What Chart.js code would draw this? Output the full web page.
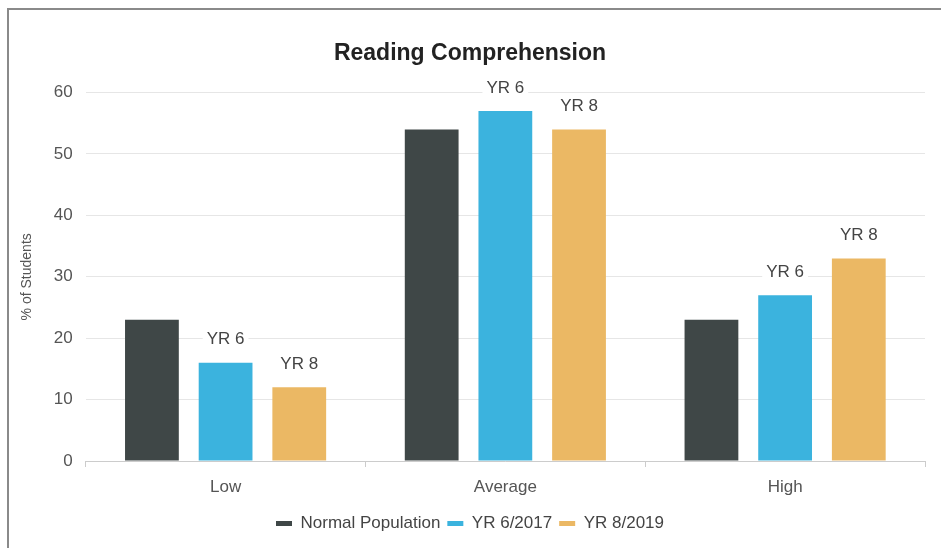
<!DOCTYPE html>
<html>
<head>
<meta charset="utf-8">
<script src="https://cdn.jsdelivr.net/npm/chart.js@4/dist/chart.umd.min.js"></script>
<style>
    html, body { margin: 0; padding: 0; background: #fff; }
    #wrap { position: relative; width: 941px; height: 548px; }
    #frame { position: absolute; left: 7px; top: 8px; right: 0; bottom: 0; border-top: 2px solid #8a8a8a; border-left: 2px solid #8a8a8a; }
    #chart1 { position: absolute; left: 0; top: 0; }
</style>
</head>
<body>
<div id="wrap">
    <div id="frame"></div>
    <canvas id="chart1" width="941" height="548"></canvas>
</div>
<script>
Chart.defaults.font.family = '"Liberation Sans", Arial, sans-serif';
Chart.defaults.color = '#555';

const categories = ['Low', 'Average', 'High'];
const seriesNames = ['Normal Population', 'YR 6/2017', 'YR 8/2019'];
const normalPop = [23, 54, 23];
const yr6 = [16, 57, 27];
const yr8 = [12, 54, 33];
const barTags = ['', 'YR 6', 'YR 8'];
const yTicks = [0, 10, 20, 30, 40, 50, 60];

// labels above the bars, with a white box behind them
const barTagPlugin = {
    id: 'barTags',
    afterDatasetsDraw(chart) {
        const ctx = chart.ctx;
        ctx.save();
        ctx.font = '17px "Liberation Sans", Arial, sans-serif';
        ctx.textAlign = 'center';
        ctx.textBaseline = 'middle';
        chart.data.datasets.forEach((ds, i) => {
            const tag = barTags[i];
            if (!tag) return;
            chart.getDatasetMeta(i).data.forEach(bar => {
                const y = bar.y - 23;
                const w = ctx.measureText(tag).width + 8;
                ctx.fillStyle = '#fff';
                ctx.fillRect(bar.x - w / 2, y - 10, w, 20);
                ctx.fillStyle = '#444';
                ctx.fillText(tag, bar.x, y);
            });
        });
        ctx.restore();
    }
};

const chart1 = new Chart(document.querySelector('#chart1'), {
    type: 'bar',
    data: {
        labels: categories,
        datasets: [
            { label: seriesNames[0], data: normalPop, backgroundColor: '#3f4747' },
            { label: seriesNames[1], data: yr6, backgroundColor: '#3bb3de' },
            { label: seriesNames[2], data: yr8, backgroundColor: '#ebb864' },
        ]
    },
    options: {
        responsive: false,
        animation: false,
        categoryPercentage: 0.79,
        barPercentage: 0.73,
        layout: {
            padding: { top: 30, left: 15, right: 16, bottom: 6 }
        },
        scales: {
            x: {
                grid: {
                    offset: true,
                    drawOnChartArea: false,
                    tickLength: 6,
                    color: '#cccccc'
                },
                border: { color: '#cccccc' },
                ticks: {
                    color: '#555',
                    padding: 12,
                    font: { size: 17, lineHeight: 1 }
                }
            },
            y: {
                min: 0,
                max: 60,
                afterBuildTicks: (axis) => { axis.ticks = yTicks.map(v => ({ value: v })); },
                grid: {
                    color: '#e6e6e6',
                    drawTicks: false
                },
                border: { display: false },
                ticks: {
                    color: '#555',
                    padding: 13,
                    font: { size: 17 }
                },
                title: {
                    display: true,
                    text: '% of Students',
                    color: '#555',
                    font: { size: 14 },
                    padding: { bottom: 5 }
                }
            }
        },
        plugins: {
            title: {
                display: true,
                text: 'Reading Comprehension',
                color: '#222',
                font: { size: 23, weight: 'bold' },
                padding: { top: 10, bottom: 25 }
            },
            legend: {
                position: 'bottom',
                labels: {
                    boxWidth: 16,
                    boxHeight: 5,
                    color: '#444',
                    padding: 7,
                    font: { size: 17, lineHeight: 1 }
                }
            },
            tooltip: { enabled: false }
        }
    },
    plugins: [barTagPlugin]
});
</script>
</body>
</html>
